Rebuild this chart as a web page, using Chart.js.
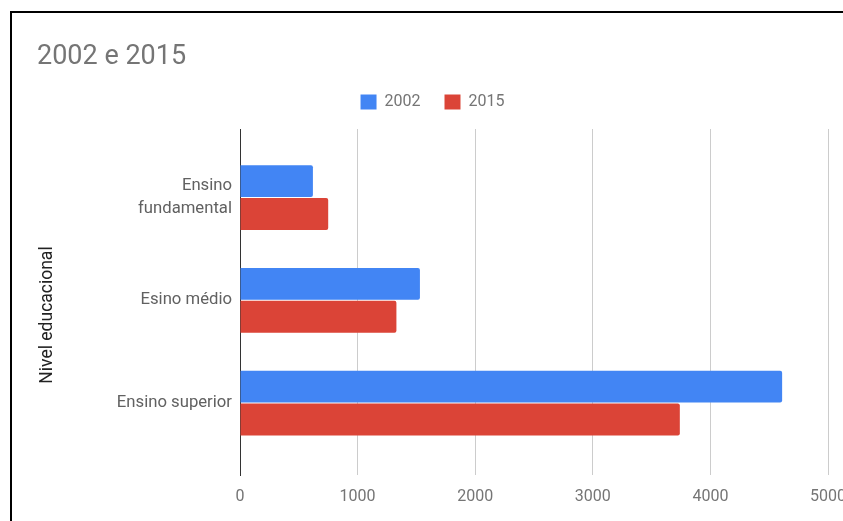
<!DOCTYPE html>
<html>
<head>
<meta charset="utf-8">
<title>2002 e 2015</title>
<script src="https://cdn.jsdelivr.net/npm/chart.js@4.4.1/dist/chart.umd.min.js"></script>
<style>
    html, body { margin: 0; padding: 0; background: #fff; overflow: hidden; }
    #wrap { position: absolute; left: 0; top: 0; width: 900px; height: 521px; }
    #frame {
        position: absolute; left: 10px; top: 11px; width: 1000px; height: 1000px;
        border-left: 2px solid #000; border-top: 2px solid #000; pointer-events: none;
    }
</style>
</head>
<body>
<div id="wrap"><canvas id="chart-nivel"></canvas></div>
<div id="frame"></div>
<script>
// Categorias e séries
const categorias = [['Ensino', 'fundamental'], 'Esino médio', 'Ensino superior'];
const valores2002 = [620, 1530, 4610];
const valores2015 = [750, 1330, 3740];
const ticksX = [0, 1000, 2000, 3000, 4000, 5000];

const FONTE = 'Roboto, "Noto Sans", sans-serif';

// eixo de categorias em escala linear (índice 0, 1, 2) para controlar as margens
const pontos = serie => serie.map((v, i) => ({ x: v, y: i }));

// Título do eixo vertical desenhado à parte (rotacionado)
const tituloEixoY = {
    id: 'tituloEixoY',
    afterDraw(chart) {
        const c = chart.ctx;
        c.save();
        c.translate(48, 315);
        c.rotate(-Math.PI / 2);
        c.font = '17.5px ' + FONTE;
        c.fillStyle = '#222';
        c.textAlign = 'center';
        c.textBaseline = 'middle';
        c.fillText('Nivel educacional', 0, 0);
        c.restore();
    }
};

// espaço extra abaixo da legenda
const margemLegenda = {
    id: 'margemLegenda',
    beforeInit(chart) {
        const fit = chart.legend.fit;
        chart.legend.fit = function () {
            fit.bind(chart.legend)();
            this.height += 9;
        };
    }
};

new Chart(document.getElementById('chart-nivel'), {
    type: 'bar',
    data: {
        datasets: [
            {
                label: '2002',
                data: pontos(valores2002),
                backgroundColor: '#4285F4',
                borderRadius: 2,
                borderSkipped: 'start',
                categoryPercentage: 0.64,
                barPercentage: 0.97
            },
            {
                label: '2015',
                data: pontos(valores2015),
                backgroundColor: '#DB4437',
                borderRadius: 2,
                borderSkipped: 'start',
                categoryPercentage: 0.64,
                barPercentage: 0.97
            }
        ]
    },
    options: {
        indexAxis: 'y',
        responsive: true,
        maintainAspectRatio: false,
        animation: false,
        layout: {
            padding: { left: 37, right: 72, top: 24, bottom: 0 }
        },
        plugins: {
            title: {
                display: true,
                text: '2002 e 2015',
                align: 'start',
                color: '#757575',
                font: { family: FONTE, size: 27, weight: 'normal', lineHeight: 1 },
                padding: { top: 20, bottom: -1 }
            },
            legend: {
                position: 'top',
                labels: {
                    color: '#757575',
                    boxWidth: 16,
                    boxHeight: 15,
                    padding: 24,
                    font: { family: FONTE, size: 16 }
                }
            },
            tooltip: { enabled: false }
        },
        scales: {
            x: {
                type: 'linear',
                min: 0,
                max: 5000,
                afterBuildTicks(scale) {
                    scale.ticks = ticksX.map(v => ({ value: v }));
                },
                afterFit(scale) {
                    scale.height = 46;
                },
                grid: {
                    color: '#cccccc',
                    drawTicks: false
                },
                border: { display: false },
                ticks: {
                    color: '#757575',
                    padding: 12,
                    font: { family: FONTE, size: 16 },
                    callback: v => String(v)
                }
            },
            y: {
                type: 'linear',
                reverse: true,
                offset: false,
                min: -0.667,
                max: 2.70,
                afterBuildTicks(scale) {
                    scale.ticks = categorias.map((c, i) => ({ value: i }));
                },
                afterFit(scale) {
                    scale.width = 240 - 37;
                },
                grid: { display: false, drawTicks: false, offset: false },
                border: { display: true, color: '#333333', width: 1 },
                ticks: {
                    color: '#616161',
                    padding: 8,
                    font: { family: FONTE, size: 16.7, lineHeight: 1.35 },
                    callback: v => categorias[v]
                }
            }
        }
    },
    plugins: [tituloEixoY, margemLegenda]
});
</script>
</body>
</html>
